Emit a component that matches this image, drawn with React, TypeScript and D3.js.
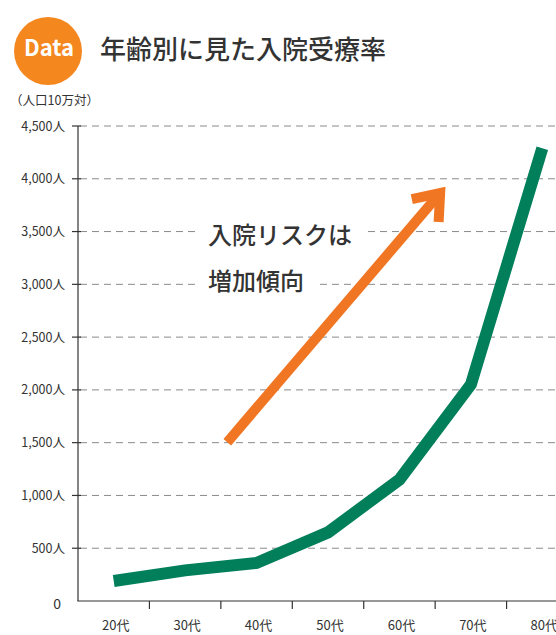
import React, { useRef, useEffect } from 'react'
import * as d3 from 'd3'

// 年代
const ages = ['20代', '30代', '40代', '50代', '60代', '70代', '80代']
// 入院受療率（人口10万対）
const rates = [190, 290, 360, 650, 1150, 2050, 4290]
const yTicks = [0, 500, 1000, 1500, 2000, 2500, 3000, 3500, 4000, 4500]
// 矢印（年代インデックス, 値）
const arrowFrom = [2.09, 1505]
const arrowTo = [5.07, 3865]
const noteLines = ['入院リスクは', '増加傾向']

const FONT = '"Noto Sans CJK JP", "Noto Sans", sans-serif'

const App = () => {
  const chartRef = useRef<SVGSVGElement>(null)

  function drawChart() {
    const svg = d3.select(chartRef.current)
    svg.selectAll('*').remove()

    const left = 78
    const bottom = 601
    const top = 126
    const band = 71.43

    const x = d3.scaleBand().domain(ages).range([left, left + band * ages.length]).padding(0)
    const xi = d3.scaleLinear().domain([0, ages.length]).range([left, left + band * ages.length])
    const y = d3.scaleLinear().domain([0, 4500]).range([bottom, top])

    // header
    svg.append('circle').attr('cx', 48).attr('cy', 51).attr('r', 34).attr('fill', '#f5871f')
    svg.append('text').attr('x', 49).attr('y', 56).attr('text-anchor', 'middle')
      .attr('fill', '#fff').attr('font-size', 22).attr('font-weight', 700)
      .attr('font-family', FONT).text('Data')
    svg.append('text').attr('x', 100).attr('y', 59)
      .attr('fill', '#333').attr('font-size', 26).attr('font-weight', 500)
      .attr('font-family', FONT).text('年齢別に見た入院受療率')
    svg.append('text').attr('x', 10).attr('y', 105)
      .attr('fill', '#333').attr('font-size', 12.5)
      .attr('font-family', FONT).text('（人口10万対）')

    // grid
    svg.append('g').selectAll('line').data(yTicks.filter(d => d > 0)).enter()
      .append('line')
      .attr('x1', left + 2).attr('x2', 556)
      .attr('y1', d => y(d)).attr('y2', d => y(d))
      .attr('stroke', '#8a8a8a').attr('stroke-width', 1).attr('stroke-dasharray', '7 5')

    // y axis
    svg.append('line').attr('x1', left).attr('x2', left).attr('y1', top).attr('y2', bottom)
      .attr('stroke', '#333').attr('stroke-width', 1.2)
    svg.append('g').selectAll('line').data(yTicks.filter(d => d > 0)).enter()
      .append('line')
      .attr('x1', left - 6).attr('x2', left + 3)
      .attr('y1', d => y(d)).attr('y2', d => y(d))
      .attr('stroke', '#333').attr('stroke-width', 1.2)
    svg.append('g').selectAll('text').data(yTicks).enter()
      .append('text')
      .attr('x', d => d === 0 ? 61 : 65)
      .attr('y', d => y(d) + 4.5 + (d === 0 ? 3 : 0))
      .attr('text-anchor', 'end')
      .attr('fill', '#333').attr('font-size', d => d === 0 ? 14 : 12.5)
      .attr('font-family', FONT)
      .text(d => d === 0 ? '0' : d3.format(',')(d) + '人')

    // x axis
    svg.append('line').attr('x1', left - 0.6).attr('x2', 556).attr('y1', bottom).attr('y2', bottom)
      .attr('stroke', '#333').attr('stroke-width', 1.2)
    svg.append('g').selectAll('line').data(ages.slice(1)).enter()
      .append('line')
      .attr('x1', d => x(d)!).attr('x2', d => x(d)!)
      .attr('y1', bottom).attr('y2', bottom + 8)
      .attr('stroke', '#333').attr('stroke-width', 1.2)
    svg.append('g').selectAll('text').data(ages).enter()
      .append('text')
      .attr('x', d => x(d)! + x.bandwidth() / 2 + 2)
      .attr('y', 630)
      .attr('text-anchor', 'middle')
      .attr('fill', '#333').attr('font-size', 13)
      .attr('font-family', FONT)
      .text(d => d)

    // note with white backing
    const note = svg.append('g')
    const noteY = [244, 290]
    noteLines.forEach((t, i) => {
      const bg = note.append('rect').attr('fill', '#fff')
      const txt = note.append('text').attr('x', 208).attr('y', noteY[i])
        .attr('fill', '#333').attr('font-size', 24).attr('font-weight', 500)
        .attr('font-family', FONT).text(t)
      const bb = (txt.node() as SVGTextElement).getBBox()
      bg.attr('x', bb.x - 11).attr('y', bb.y - 2).attr('width', bb.width + 22).attr('height', bb.height + 4)
    })

    // arrow
    const ax0 = xi(arrowFrom[0]), ay0 = y(arrowFrom[1])
    const ax1 = xi(arrowTo[0]), ay1 = y(arrowTo[1])
    const back = Math.atan2(ay0 - ay1, ax0 - ax1)
    const spread = 37.5 * Math.PI / 180
    const armLen = 29
    const arm = (a: number) => [ax1 + armLen * Math.cos(a), ay1 + armLen * Math.sin(a)]
    const orange = '#f07623'
    svg.append('line').attr('x1', ax0).attr('y1', ay0).attr('x2', ax1).attr('y2', ay1)
      .attr('stroke', orange).attr('stroke-width', 10)
    svg.append('path')
      .attr('d', d3.line()([arm(back + spread) as [number, number], [ax1, ay1], arm(back - spread) as [number, number]]))
      .attr('fill', 'none').attr('stroke', orange).attr('stroke-width', 10)
      .attr('stroke-linejoin', 'miter').attr('stroke-miterlimit', 10)

    // data line
    const pts = ages.map((a, i) => [x(a)! + x.bandwidth() / 2, y(rates[i])] as [number, number])
    svg.append('path')
      .attr('d', d3.line()(pts))
      .attr('fill', 'none').attr('stroke', '#007f5a').attr('stroke-width', 12)
      .attr('stroke-linejoin', 'miter')
  }

  useEffect(() => {
    drawChart()
  }, [])

  return (
    <div style={{ position: 'absolute', left: 0, top: 0, width: 556, height: 635, background: '#fff' }}>
      <svg ref={chartRef} width={556} height={635} style={{ display: 'block' }}></svg>
    </div>
  )
}

export default App
